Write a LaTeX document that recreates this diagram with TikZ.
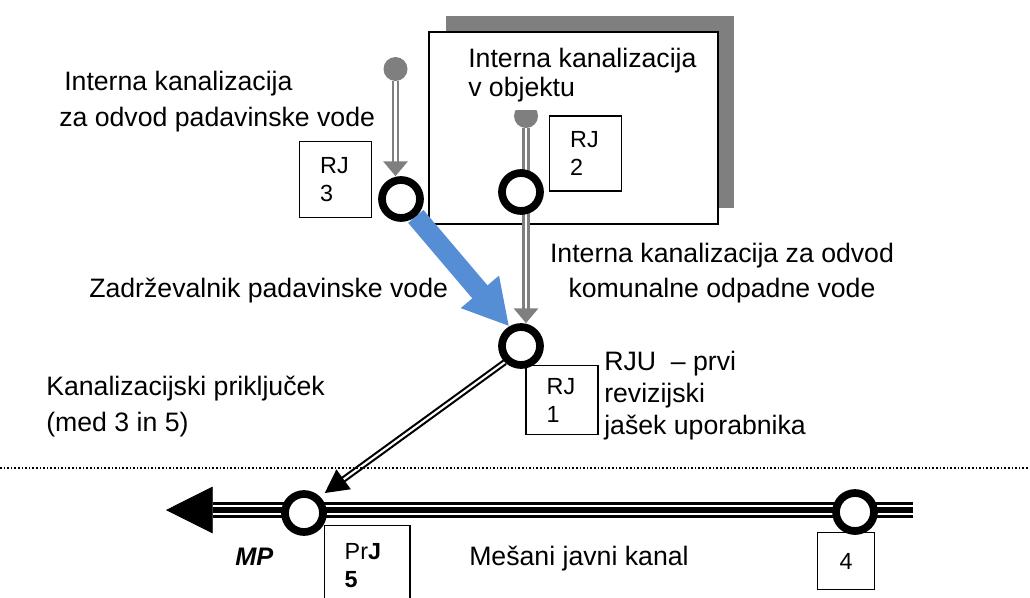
\documentclass[tikz,border=0pt]{standalone}
\usepackage{fontspec}
\setmainfont{Liberation Sans}
\usetikzlibrary{arrows.meta,backgrounds,calc}
\definecolor{wallgray}{HTML}{7F7F7F}
\definecolor{retblue}{HTML}{558ED5}
\tikzset{
  lbl/.style={anchor=base west,inner sep=0pt,align=left,font=\fontsize{20}{#1}\selectfont},
  lblc/.style={anchor=base,inner sep=0pt,align=center,font=\fontsize{20}{#1}\selectfont},
  jbox/.style={draw=black,line width=1.1pt,fill=white,rectangle,inner ysep=0pt,inner xsep=15.5pt,align=left,text width=23pt,font=\fontsize{17.5}{21}\selectfont},
  shaft/.style={circle,draw=black,line width=5.8pt,fill=white,minimum size=28.5pt,inner sep=0pt},
  bullet/.style={circle,fill=wallgray,minimum size=18pt,inner sep=0pt},
  grayarrow/.style={draw=wallgray,line width=1.9pt,double=white,double distance=1.9pt,-{Triangle[length=11pt,width=18pt]}},
  blackarrow/.style={draw=black,line width=1.6pt,double=white,double distance=1.6pt,-{Triangle[length=17.5pt,width=18pt]}},
  mainline/.style={draw=black,line width=12pt,postaction={draw=white,line width=8pt},postaction={draw=black,line width=4.4pt}},
  bluearrow/.style={draw=retblue,line width=15pt,-{Triangle[length=34pt,width=35pt]}},
  sepline/.style={draw=black,line width=1.1pt,dash pattern=on 1.2pt off 1.5pt},
}
\begin{document}
\begin{tikzpicture}[x=0.75pt,y=-0.75pt]
\useasboundingbox (0,0) rectangle (1030,597);
% shafts and boxes
\node[jbox,minimum height=57pt] (box3) at (335.5,179.5) {RJ\\3};
\node[jbox,minimum height=56pt] (box2) at (585.5,153.5) {RJ\\2};
\node[jbox,minimum height=52pt] (box1) at (562,400) {RJ\\1};
\node[jbox,minimum height=60pt,inner xsep=15pt,text width=34pt,anchor=north west] (box5) at (324,525) {Pr\textbf{J}\\\textbf{5}};
\node[jbox,minimum height=43pt,inner xsep=10pt,text width=23pt,align=center] (box4) at (846,561) {4};
\node[shaft] (rj3) at (401,199) {};
\node[shaft] (rj2) at (521,192) {};
\node[shaft] (rj1) at (521,346) {};
\node[shaft] (rj5) at (304,513) {};
\node[shaft] (rj4) at (855,512) {};
\coordinate (lineR) at (913,510);
\coordinate (headbase) at (213,510);
\coordinate (mp) at (166,510);
\coordinate (sepL) at (0,468);
\coordinate (sepR) at (1030,468);
% labels
\node[lbl=27pt] (t1) at (59,126) {\hspace*{3.75pt}Interna kanalizacija\\za odvod padavinske vode};
\node[lbl=21.75pt] (t2) at (468,96) {Interna kanalizacija\\v objektu};
\node[lblc=26pt] (t3) at (722,297) {Interna kanalizacija za odvod\\komunalne odpadne vode};
\node[lbl=26pt] (t4) at (89,297) {Zadrževalnik padavinske vode};
\node[lbl=27pt] (t5) at (46,431) {Kanalizacijski priključek\\(med 3 in 5)};
\node[lbl=24pt] (t6) at (604,434) {RJU\ \ – prvi\\revizijski\\jašek uporabnika};
\node[lbl=22pt,font=\fontsize{19}{22}\selectfont\bfseries\itshape] (t7) at (235,565) {MP};
\node[lbl=22pt] (t8) at (469,565) {Mešani javni kanal};
% back layer
\begin{pgfonlayer}{background}
  \fill[wallgray] (446,16) rectangle (734,208);
  \draw[fill=white,draw=black,line width=1.1pt] (429,32) rectangle (718,224);
  \node[bullet] (b3) at (395.5,69) {};
  \node[bullet] (b2) at (526,116) {};
  \fill[white] (448,34) rectangle (717,110);
  \draw[grayarrow] (b3) -- (b3 |- rj3.north);
  \draw[grayarrow] (b2) -- (b2 |- rj1.north);
  \draw[bluearrow] (rj3) -- (rj1.121);
  \draw[blackarrow,shorten >=4.5pt] (rj1.south west) -- (rj5.46);
  \draw[mainline] (lineR) -- (lineR -| rj4);
  \draw[mainline] (lineR -| rj4) -- (lineR -| rj5);
  \draw[mainline] (lineR -| rj5) -- (headbase);
  \draw[black,line width=0.5pt,-{Triangle[length=35pt,width=35pt]}] (headbase) -- (mp);
  \draw[sepline] (sepL) -- (sepR);
\end{pgfonlayer}
\end{tikzpicture}
\end{document}
